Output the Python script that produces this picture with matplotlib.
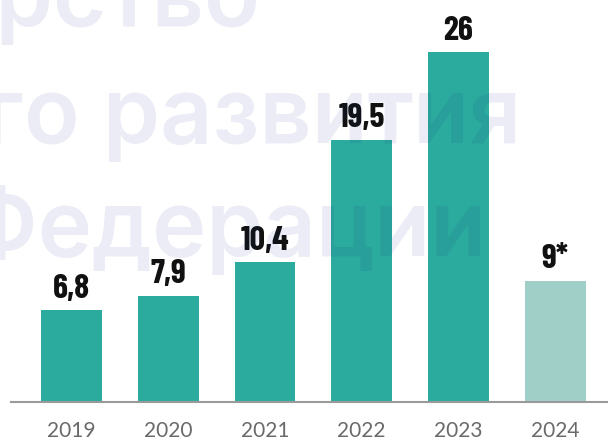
import matplotlib
matplotlib.use("Agg")
import matplotlib.pyplot as plt

years = ["2019", "2020", "2021", "2022", "2023", "2024"]
values = [6.8, 7.9, 10.4, 19.5, 26, 9]
value_labels = ["6,8", "7,9", "10,4", "19,5", "26", "9*"]
colors = ["#2BAB9D"] * 5 + ["#A0CFC8"]

W, H = 608, 441
fig = plt.figure(figsize=(W / 100, H / 100), dpi=100)

# axes: x from 11 to 608 px, baseline at 402 px from top
ax = fig.add_axes([11 / W, 39 / H, (W - 11) / W, 402 / H])
x = list(range(len(years)))
ax.bar(x, values, width=0.63, color=colors, zorder=2)
ax.set_xlim(-0.625, 5.545)
ax.set_ylim(0, 29.87)

for xi, v, lab in zip(x, values, value_labels):
    ax.annotate(lab, (xi, v), xytext=(0, 9), textcoords="offset points",
                ha="center", va="baseline", fontsize=24.5, fontweight=700,
                family=["Barlow Condensed", "DejaVu Sans"], color="#111111",
                zorder=5)

for s in ["top", "right", "left"]:
    ax.spines[s].set_visible(False)
ax.spines["bottom"].set_color("#9a9a9a")
ax.spines["bottom"].set_linewidth(1.5)
ax.spines["bottom"].set_zorder(3)
ax.set_yticks([])
ax.set_xticks(x)
ax.set_xticklabels(years, fontsize=15, color="#6a6a6a",
                   family=["Lato", "DejaVu Sans"])
ax.tick_params(axis="x", length=0, pad=14)

# faint watermark overlaid on the chart
wm = dict(family=["Inter", "DejaVu Sans"], fontweight=600, fontsize=66,
          color="#1a2a8c", alpha=0.085, ha="right", va="baseline", zorder=10)
fig.text(260 / W, 1 - 26 / H, "Министерство", **wm)
fig.text(521 / W, 1 - 143 / H, "экономического развития", **wm)
fig.text(486 / W, 1 - 256 / H, "Российской Федерации", **wm)

fig.savefig("out.png", dpi=100)
